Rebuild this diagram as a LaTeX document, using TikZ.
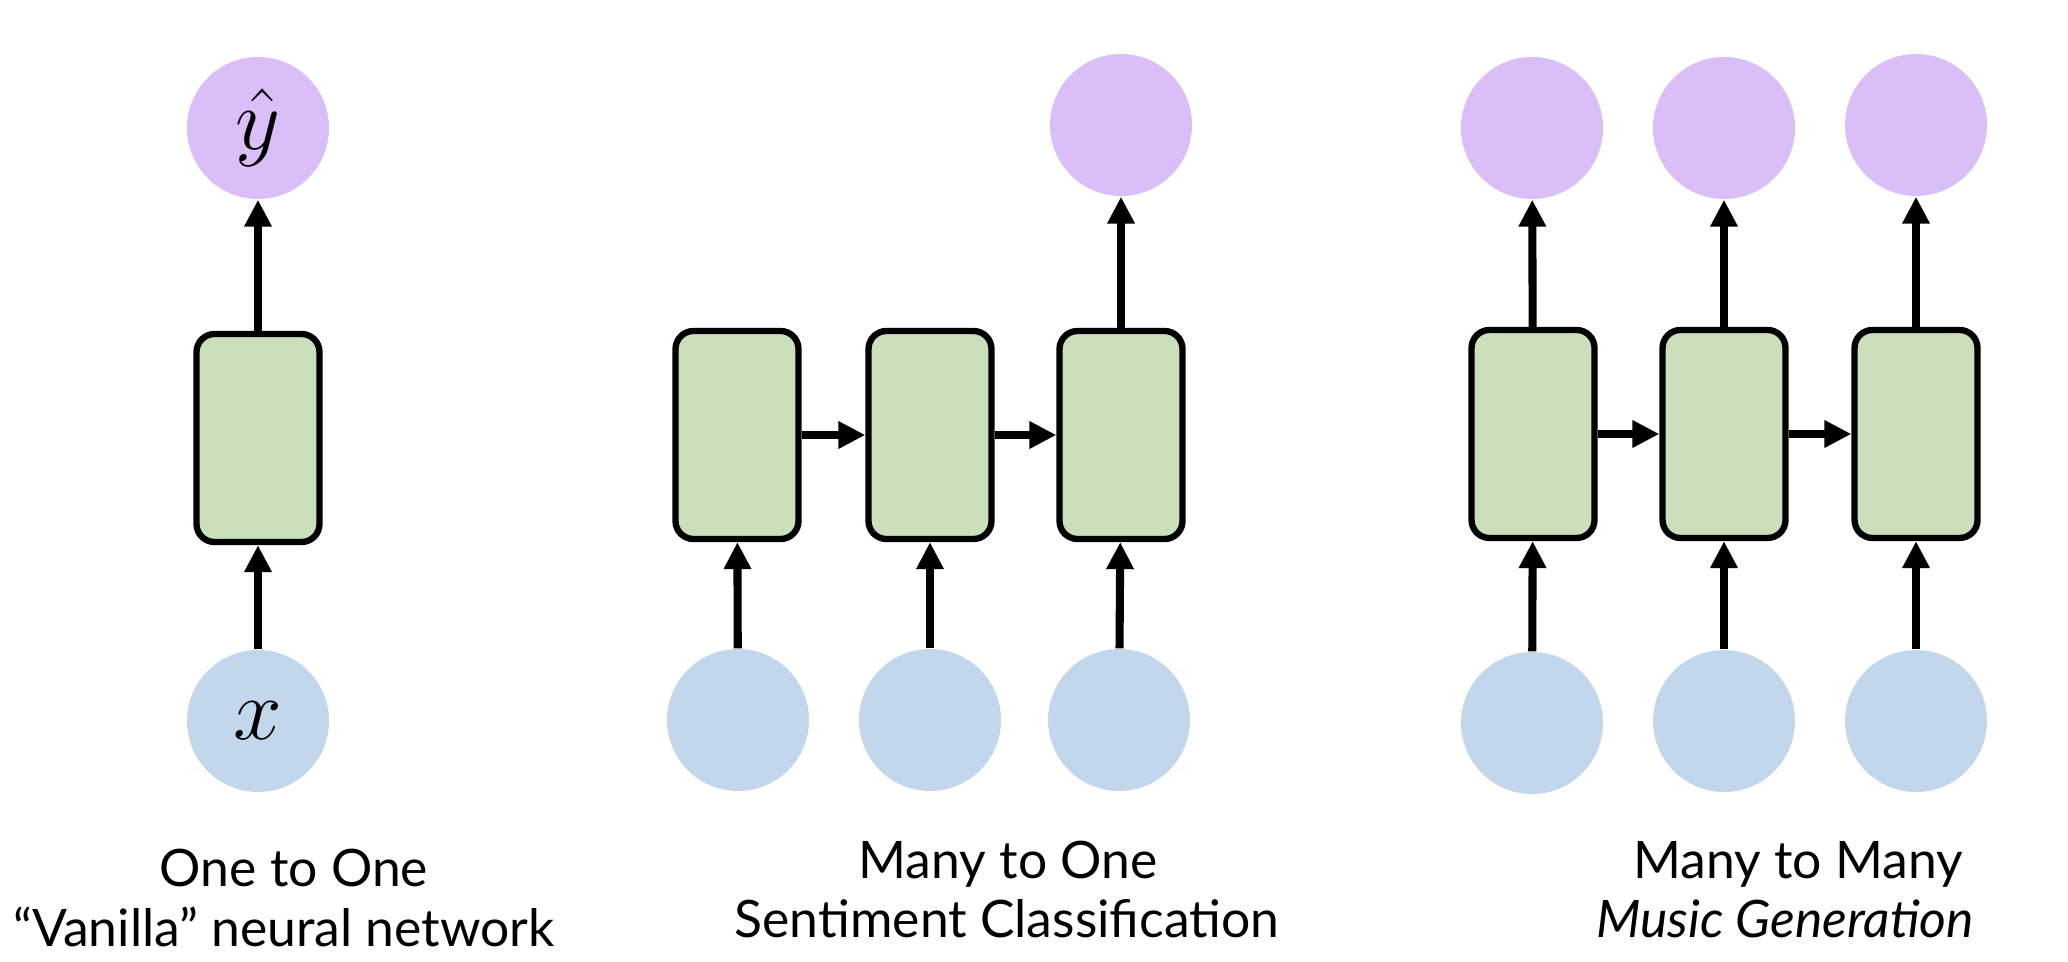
\documentclass[tikz,border=0pt]{standalone}
\usepackage{fontspec}
\setmainfont{Lato}
\usepackage{xcolor}
\usetikzlibrary{arrows.meta}
\definecolor{outpurple}{HTML}{D9BEF8}
\definecolor{inblue}{HTML}{C3D7EC}
\definecolor{cellgreen}{HTML}{CBDFBB}
\tikzstyle{arrow} = [line width=2.3pt,-{Triangle[length=0.27cm,width=0.26cm]}]

\begin{document}
\begin{tikzpicture}[
    cell/.style={draw=black,line width=1.8pt,fill=cellgreen,rounded corners=0.18cm,minimum width=1.23cm,minimum height=2.08cm,inner sep=0pt},
    outc/.style={circle,fill=outpurple,minimum size=1.42cm,inner sep=0pt,font=\fontsize{25}{30}\selectfont},
    inc/.style={circle,fill=inblue,minimum size=1.42cm,inner sep=0pt,font=\fontsize{25}{30}\selectfont},
    lbl/.style={anchor=base,font=\fontsize{14.7}{18}\selectfont}]
          \useasboundingbox (0,0) rectangle (20.68,-9.62);
          % one to one
          \node[cell] (a1) at (2.58,-4.38){};
          \node[outc] (ay1) at (2.58,-1.28){$\hat{y}$};
          \node[inc] (ax1) at (2.58,-7.21){$x$};
          \draw [arrow] (ax1) -- (a1);
          \draw [arrow] (a1) -- (ay1);
          \node[lbl] (alab1) at (2.94,-8.86){One to One};
          \node[lbl] (alab2) at (2.84,-9.46){``Vanilla'' neural network};
          % many to one
          \node[cell] (b1) at (7.37,-4.35){};
          \node[cell] (b2) at (9.30,-4.35){};
          \node[cell] (b3) at (11.21,-4.35){};
          \node[outc] (by3) at (11.21,-1.25){};
          \node[inc] (bx1) at (7.38,-7.20){};
          \node[inc] (bx2) at (9.30,-7.20){};
          \node[inc] (bx3) at (11.19,-7.20){};
          \draw [arrow] (bx1) -- (b1);
          \draw [arrow] (bx2) -- (b2);
          \draw [arrow] (bx3) -- (b3);
          \draw [arrow] (b1) -- (b2);
          \draw [arrow] (b2) -- (b3);
          \draw [arrow] (b3) -- (by3);
          \node[lbl] (blab1) at (10.08,-8.78){Many to One};
          \node[lbl] (blab2) at (10.07,-9.37){Sentiment Classification};
          % many to many
          \node[cell] (c1) at (15.33,-4.34){};
          \node[cell] (c2) at (17.24,-4.34){};
          \node[cell] (c3) at (19.16,-4.34){};
          \node[outc] (cy1) at (15.32,-1.28){};
          \node[outc] (cy2) at (17.24,-1.28){};
          \node[outc] (cy3) at (19.16,-1.25){};
          \node[inc] (cx1) at (15.32,-7.23){};
          \node[inc] (cx2) at (17.24,-7.21){};
          \node[inc] (cx3) at (19.16,-7.21){};
          \draw [arrow] (cx1) -- (c1);
          \draw [arrow] (cx2) -- (c2);
          \draw [arrow] (cx3) -- (c3);
          \draw [arrow] (c1) -- (c2);
          \draw [arrow] (c2) -- (c3);
          \draw [arrow] (c1) -- (cy1);
          \draw [arrow] (c2) -- (cy2);
          \draw [arrow] (c3) -- (cy3);
          \node[lbl] (clab1) at (17.98,-8.78){Many to Many};
          \node[lbl] (clab2) at (17.85,-9.37){\itshape Music Generation};
      \end{tikzpicture}
\end{document}
